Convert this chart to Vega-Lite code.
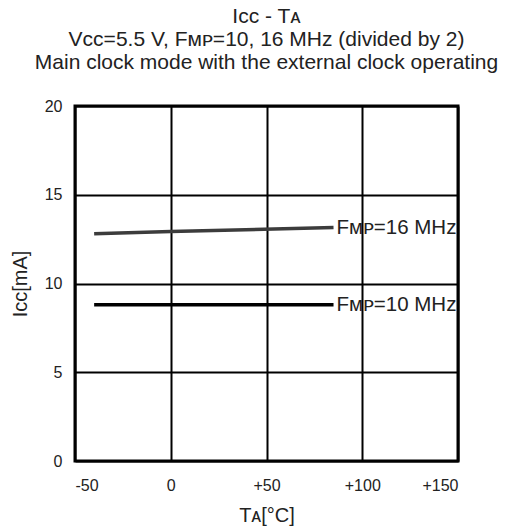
{
  "$schema": "https://vega.github.io/schema/vega-lite/v6.json",
  "width": 383,
  "height": 355,
  "autosize": {"type": "none"},
  "padding": {"left": 75, "top": 106, "right": 48, "bottom": 68},
  "background": "white",
  "config": {
    "font": "Liberation Sans",
    "view": {"stroke": "black", "strokeWidth": 3},
    "axis": {
      "domain": false,
      "ticks": false,
      "grid": true,
      "gridColor": "black",
      "gridWidth": 2,
      "gridOpacity": 1,
      "labelFont": "Liberation Sans",
      "labelFontSize": 16,
      "labelColor": "#222",
      "titleFont": "Liberation Sans",
      "titleFontSize": 20,
      "titleFontWeight": "normal",
      "titleColor": "#222"
    }
  },
  "title": {
    "text": ["Iᴄᴄ - Tᴀ", "Vᴄᴄ=5.5 V, Fᴍᴘ=10, 16 MHz (divided by 2)", "Main clock mode with the external clock operating"],
    "font": "Liberation Sans",
    "fontSize": 21,
    "fontWeight": "normal",
    "color": "#222",
    "lineHeight": 23,
    "anchor": "middle",
    "frame": "group",
    "offset": 25
  },
  "datasets": {
    "lines": [
      {"TA": -40, "ICC": 12.8, "series": "16 MHz"},
      {"TA": 0, "ICC": 12.93, "series": "16 MHz"},
      {"TA": 85, "ICC": 13.15, "series": "16 MHz"},
      {"TA": -40, "ICC": 8.8, "series": "10 MHz"},
      {"TA": 0, "ICC": 8.8, "series": "10 MHz"},
      {"TA": 85, "ICC": 8.8, "series": "10 MHz"}
    ],
    "labels": [
      {"TA": 85, "ICC": 13.15, "label": "Fᴍᴘ=16 MHz"},
      {"TA": 85, "ICC": 8.8, "label": "Fᴍᴘ=10 MHz"}
    ]
  },
  "layer": [
    {
      "data": {"name": "lines"},
      "mark": {"type": "line", "strokeWidth": 3.5},
      "encoding": {
        "x": {
          "field": "TA", "type": "quantitative",
          "scale": {"domain": [-50, 150], "nice": false, "zero": false},
          "axis": {
            "values": [-50, 0, 50, 100, 150],
            "labelExpr": "datum.value > 0 ? '+' + datum.value : '' + datum.value",
            "labelPadding": 16,
            "title": "Tᴀ[°C]",
            "titlePadding": 12
          }
        },
        "y": {
          "field": "ICC", "type": "quantitative",
          "scale": {"domain": [0, 20], "nice": false},
          "axis": {
            "values": [0, 5, 10, 15, 20],
            "labelPadding": 13,
            "title": "Iᴄᴄ[mA]",
            "titlePadding": 14
          }
        },
        "detail": {"field": "series"},
        "color": {
          "field": "series", "type": "nominal",
          "scale": {"domain": ["16 MHz", "10 MHz"], "range": ["#3c3c3c", "#000000"]},
          "legend": null
        }
      }
    },
    {
      "data": {"name": "labels"},
      "mark": {"type": "text", "align": "left", "baseline": "middle", "dx": 3, "fontSize": 20.5, "font": "Liberation Sans", "color": "#222"},
      "encoding": {
        "x": {"field": "TA", "type": "quantitative"},
        "y": {"field": "ICC", "type": "quantitative"},
        "text": {"field": "label"}
      }
    }
  ]
}
